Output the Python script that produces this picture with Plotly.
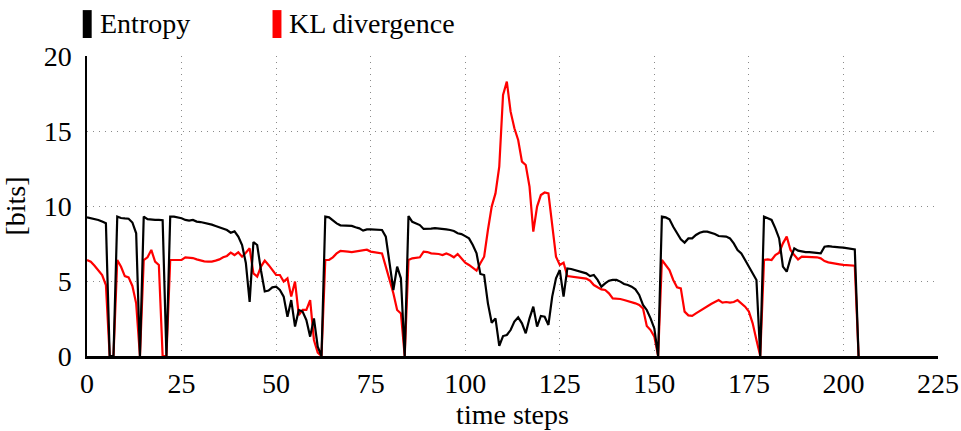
import plotly.graph_objects as go

# Per-step values (bits) for time steps 0..204
entropy = [
    9.24, 9.20, 9.13, 9.07, 8.96, 8.85, 0.00, 0.00, 9.29, 9.20,
    9.17, 9.15, 8.90, 8.18, 0.00, 9.29, 9.12, 9.07, 9.07, 9.07,
    9.05, 0.00, 9.29, 9.29, 9.24, 9.18, 9.07, 9.02, 9.07, 8.96,
    8.93, 8.89, 8.84, 8.76, 8.67, 8.58, 8.49, 8.40, 8.22, 8.31,
    7.96, 7.40, 6.20, 3.60, 7.60, 7.40, 5.70, 4.30, 4.36, 4.58,
    4.62, 4.40, 3.96, 2.62, 3.73, 1.96, 3.07, 2.96, 2.40, 1.29,
    2.51, 0.62, 0.00, 9.29, 9.24, 9.02, 8.84, 8.71, 8.71, 8.69,
    8.67, 8.58, 8.51, 8.36, 8.44, 8.44, 8.44, 8.44, 8.40, 7.96,
    6.18, 4.40, 5.96, 5.18, 0.00, 9.33, 8.95, 8.84, 8.73, 8.47,
    8.47, 8.49, 8.53, 8.51, 8.47, 8.44, 8.40, 8.33, 8.18, 8.13,
    7.99, 7.84, 7.40, 6.84, 5.47, 5.40, 3.51, 2.22, 2.51, 0.67,
    1.33, 1.40, 1.73, 2.29, 2.58, 2.18, 1.51, 2.51, 3.29, 1.96,
    2.67, 2.62, 2.07, 3.96, 5.18, 5.73, 3.96, 5.84, 5.80, 5.73,
    5.69, 5.62, 5.51, 5.33, 5.40, 5.07, 4.62, 4.84, 5.02, 5.07,
    5.07, 4.96, 4.80, 4.73, 4.62, 4.44, 4.07, 3.40, 3.07, 2.51,
    1.84, 0.00, 9.29, 9.24, 9.11, 8.62, 8.18, 7.78, 7.56, 7.84,
    7.84, 8.07, 8.22, 8.29, 8.29, 8.22, 8.13, 8.00, 8.00, 7.96,
    7.84, 7.51, 7.07, 6.84, 6.40, 5.96, 5.51, 5.07, 0.00, 9.29,
    9.18, 9.07, 8.51, 7.84, 5.96, 5.62, 6.51, 7.18, 7.02, 6.96,
    6.93, 6.93, 6.89, 6.84, 6.84, 7.29, 7.33, 7.29, 7.29, 7.24,
    7.22, 7.20, 7.18, 7.11, 0.00,
]

kl_divergence = [
    6.40, 6.29, 6.02, 5.73, 5.40, 4.73, 0.00, 0.00, 6.40, 5.95,
    5.33, 5.24, 4.67, 3.51, 0.00, 6.40, 6.58, 7.07, 6.29, 6.07,
    0.00, 0.00, 6.40, 6.40, 6.40, 6.40, 6.58, 6.58, 6.53, 6.44,
    6.36, 6.31, 6.29, 6.29, 6.36, 6.44, 6.58, 6.67, 6.89, 6.73,
    6.91, 6.62, 6.89, 7.18, 5.51, 5.29, 5.96, 6.36, 6.07, 5.73,
    5.40, 5.40, 4.96, 5.18, 3.96, 4.96, 2.73, 3.07, 3.07, 3.73,
    1.07, 0.22, 0.00, 6.40, 6.40, 6.58, 6.84, 7.00, 7.00, 6.96,
    6.93, 6.96, 7.02, 7.04, 7.09, 6.96, 6.93, 6.91, 6.84, 5.96,
    5.07, 4.18, 3.07, 2.84, 0.00, 6.40, 6.51, 6.55, 6.58, 6.96,
    6.93, 6.84, 6.84, 6.80, 6.73, 6.84, 6.73, 6.58, 6.80, 6.51,
    6.22, 6.07, 5.90, 5.69, 6.18, 6.62, 8.40, 9.96, 10.84, 12.62,
    17.40, 18.29, 16.29, 15.18, 14.40, 12.96, 12.73, 11.29, 8.29, 9.96,
    10.73, 10.90, 10.84, 8.62, 6.62, 6.07, 6.22, 5.33, 5.29, 5.29,
    5.24, 5.22, 5.16, 5.02, 4.73, 4.58, 4.44, 4.40, 4.18, 3.84,
    3.84, 3.80, 3.73, 3.67, 3.62, 3.51, 3.40, 3.18, 2.00, 1.73,
    1.29, 0.00, 6.40, 6.07, 5.73, 5.07, 4.58, 4.51, 2.96, 2.71,
    2.67, 2.84, 3.00, 3.18, 3.33, 3.47, 3.60, 3.73, 3.56, 3.60,
    3.56, 3.60, 3.73, 3.51, 3.29, 2.96, 2.18, 1.07, 0.00, 6.40,
    6.44, 6.40, 6.73, 6.89, 7.51, 7.96, 7.07, 6.73, 6.44, 6.62,
    6.62, 6.62, 6.62, 6.58, 6.51, 6.33, 6.24, 6.18, 6.13, 6.11,
    6.07, 6.04, 6.02, 6.02, 0.00,
]

time_steps = list(range(len(entropy)))
series_names = ["Entropy", "KL divergence"]
series_colors = ["#000000", "#ff0000"]
x_ticks = [0, 25, 50, 75, 100, 125, 150, 175, 200, 225]
y_ticks = [0, 5, 10, 15, 20]

FONT = "Liberation Serif"
FS = 28

fig = go.Figure()
# KL divergence first so the entropy curve sits on top
fig.add_trace(go.Scatter(x=time_steps, y=kl_divergence, mode="lines",
                         name=series_names[1],
                         line=dict(color=series_colors[1], width=2.2)))
fig.add_trace(go.Scatter(x=time_steps, y=entropy, mode="lines",
                         name=series_names[0],
                         line=dict(color=series_colors[0], width=2.2)))

# Legend drawn as tall colour bars with labels above the plot area
legend_x = [-0.005, 0.218]
for name, color, x0 in zip(series_names, series_colors, legend_x):
    fig.add_shape(type="rect", xref="paper", yref="paper",
                  x0=x0, x1=x0 + 0.0105, y0=1.06, y1=1.153,
                  fillcolor=color, line=dict(width=0))
    fig.add_annotation(xref="paper", yref="paper", x=x0 + 0.0175, y=1.108,
                       text=name, showarrow=False, xanchor="left",
                       yanchor="middle",
                       font=dict(family=FONT, size=FS, color="#000"))

fig.update_layout(
    width=961, height=431,
    margin=dict(l=87, r=23, t=56, b=75),
    paper_bgcolor="white", plot_bgcolor="white",
    showlegend=False,
    font=dict(family=FONT, size=FS, color="#000"),
)
fig.update_xaxes(
    range=[0, 225], tickvals=x_ticks, ticktext=[str(v) for v in x_ticks],
    showgrid=True, gridcolor="#8a8a8a", griddash="1px,5px", gridwidth=1,
    showline=True, linecolor="#000", linewidth=2.5,
    ticks="outside", ticklen=1, tickcolor="rgba(0,0,0,0)",
    zeroline=False, layer="above traces", automargin=False,
    title=dict(text="time steps", font=dict(family=FONT, size=FS), standoff=6),
)
fig.update_yaxes(
    range=[0, 20], tickvals=y_ticks, ticktext=[str(v) for v in y_ticks],
    showgrid=True, gridcolor="#8a8a8a", griddash="1px,5px", gridwidth=1,
    showline=True, linecolor="#000", linewidth=1.5,
    ticks="outside", ticklen=8, tickcolor="rgba(0,0,0,0)",
    zeroline=False, automargin=False,
    title=dict(text="[bits]", font=dict(family=FONT, size=FS), standoff=10),
)

fig.write_html("out.html")
